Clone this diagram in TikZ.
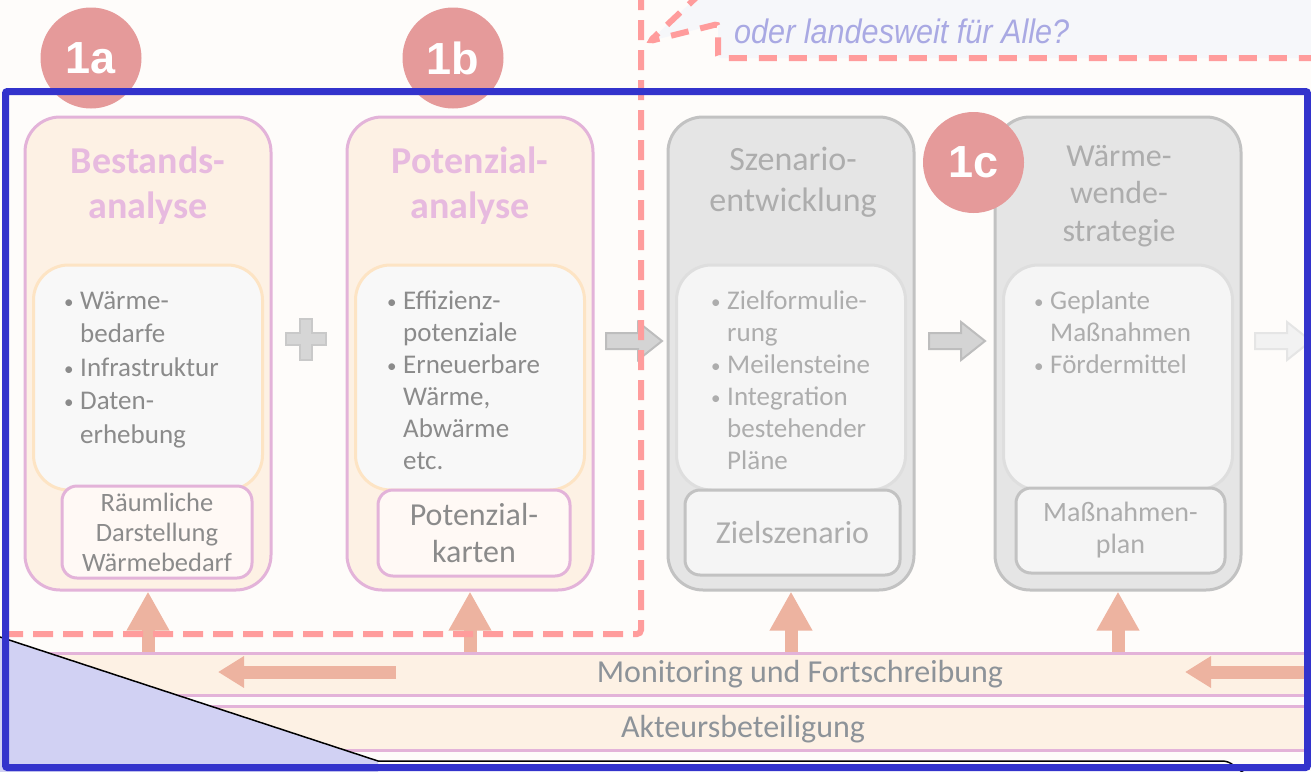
\documentclass[tikz,border=0pt]{standalone}
\usepackage{fontspec}
\setmainfont{Carlito}
\newfontfamily\badgefont{Liberation Sans}
\newfontfamily\notefont[FakeStretch=0.9]{Liberation Sans}
\usepackage{xcolor}
\definecolor{paper}{HTML}{FEFCFA}
\definecolor{peach}{HTML}{FDF1E4}
\definecolor{orchid}{HTML}{E3B3D9}
\definecolor{titlepink}{HTML}{E7BADF}
\definecolor{infill}{HTML}{F8F8F8}
\definecolor{inline}{HTML}{FDE4C4}
\definecolor{resfill}{HTML}{FFF9F5}
\definecolor{txt}{HTML}{8B8B8B}
\definecolor{greybox}{HTML}{E5E5E5}
\definecolor{greyline}{HTML}{C2C2C2}
\definecolor{greyin}{HTML}{F5F5F5}
\definecolor{greyinline}{HTML}{DEDEDE}
\definecolor{greytxt}{HTML}{ADADAD}
\definecolor{salmon}{HTML}{EDB3A0}
\definecolor{badgepink}{HTML}{E59A9A}
\definecolor{dashpink}{HTML}{FF9C9C}
\definecolor{framed}{HTML}{3333CC}
\definecolor{lavender}{HTML}{D1D1F3}
\definecolor{notefill}{HTML}{F6F7FA}
\definecolor{notetxt}{HTML}{A9A9E3}
\definecolor{bandtxt}{HTML}{8D9399}
\usetikzlibrary{positioning,calc,arrows.meta}

\newcommand\itm{\makebox[17pt][l]{\hspace*{1pt}\raisebox{1pt}{\fontsize{19pt}{19pt}\selectfont\textbullet}}}
\newcommand\itmgap{\hspace*{17pt}}

\tikzset{blockarrow/.pic={\path[pic actions] (-28,-8) -- (4,-8) -- (4,-19) -- (28,0) -- (4,19) -- (4,8) -- (-28,8) -- cycle;}}

\begin{document}
\begin{tikzpicture}[x=1pt,y=-1pt,
  stage/.style={rounded corners=35pt,line width=3pt,minimum width=246pt,minimum height=473pt,inner sep=0pt},
  warm/.style={stage,fill=peach,draw=orchid},
  cold/.style={stage,fill=greybox,draw=greyline},
  inbox/.style={rounded corners=35pt,line width=3pt,minimum width=229pt,minimum height=225pt,inner sep=0pt},
  inwarm/.style={inbox,fill=infill,draw=inline},
  incold/.style={inbox,fill=greyin,draw=greyinline},
  reswarm/.style={rounded corners=15pt,line width=3pt,fill=resfill,draw=orchid,text=txt,align=center,inner sep=0pt},
  rescold/.style={rounded corners=15pt,line width=3pt,fill=greyin,draw=greyline,text=greytxt,align=center,inner sep=0pt},
  ttlwarm/.style={text=titlepink,align=center,inner sep=0pt,font=\bfseries\fontsize{38pt}{45pt}\selectfont},
  ttlcold/.style={text=greytxt,align=center,inner sep=0pt,font=\fontsize{34pt}{41pt}\selectfont},
  listwarm/.style={text=txt,align=left,anchor=north west,inner sep=0pt,font=\fontsize{27pt}{32pt}\selectfont},
  listcold/.style={listwarm,text=greytxt},
  band/.style={fill=peach,draw=orchid,line width=3pt,minimum width=1330pt,inner sep=0pt},
  bandlabel/.style={text=bandtxt,inner sep=0pt,font=\fontsize{32pt}{36pt}\selectfont},
  feed/.style={salmon,line width=13pt,-{Triangle[length=39pt,width=40pt]}},
  back/.style={salmon,line width=13pt,-{Triangle[length=26pt,width=30pt]}},
  pinkdash/.style={dashpink,line width=6pt,dash pattern=on 20pt off 10pt,rounded corners=4pt},
  badge/.style={circle,fill=badgepink,minimum size=101pt,inner sep=0pt,text=white,font=\badgefont\bfseries\fontsize{45pt}{45pt}\selectfont},
  flowgrey/.style={fill=black!17,draw=black!26,line width=2pt},
  flowpale/.style={fill=black!5,draw=black!10,line width=2pt}]
  \useasboundingbox (0,0) rectangle (1311,771);
  \clip (0,0) rectangle (1311,771);
  \fill[paper] (0,0) rectangle (1311,771);

  % question bubble
  \filldraw[fill=notefill,draw=dashpink,line width=6pt,dash pattern=on 18pt off 12pt,rounded corners=3pt]
    (702,-8) -- (650,41) -- (718,24) -- (718,58) -- (1330,58) -- (1330,-8);
  \node[anchor=west,inner sep=0pt,text=notetxt,font=\notefont\itshape\fontsize{34pt}{34pt}\selectfont] (ask) at (734,31) {oder landesweit für Alle?};

  % the four stages
  \node[warm] (best) at (148,353.5) {};
  \node[warm,right=73pt of best] (pot) {};
  \node[cold,right=72pt of pot] (szen) {};
  \node[cold,right=78pt of szen] (strat) {};

  \node[inwarm,below=148pt of best.north] (bestin) {};
  \node[inwarm,below=148pt of pot.north] (potin) {};
  \node[incold,below=148pt of szen.north] (szenin) {};
  \node[incold,below=148pt of strat.north] (stratin) {};

  \node[ttlwarm] (bestttl) at (148,186) {Bestands-\\analyse};
  \node[ttlwarm] (potttl) at (470,186) {Potenzial-\\analyse};
  \node[ttlcold] (szenttl) at (793,182) {Szenario-\\entwicklung};
  \node[ttlcold,font=\fontsize{32pt}{37.5pt}\selectfont] (stratttl) at (1119,196) {Wärme-\\wende-\\strategie};

  \node[listwarm,font=\fontsize{27pt}{33.5pt}\selectfont] (bestli) at (63,291) {\itm Wärme-\\\itmgap bedarfe\\\itm Infrastruktur\\\itm Daten-\\\itmgap erhebung};
  \node[listwarm] (potli) at (386,291) {\itm Effizienz-\\\itmgap potenziale\\\itm Erneuerbare\\\itmgap Wärme,\\\itmgap Abwärme\\\itmgap etc.};
  \node[listcold] (szenli) at (710,291) {\itm Zielformulie-\\\itmgap rung\\\itm Meilensteine\\\itm Integration\\\itmgap bestehender\\\itmgap Pläne};
  \node[listcold] (stratli) at (1033,291) {\itm Geplante\\\itmgap Maßnahmen\\\itm Fördermittel};

  \node[reswarm,minimum width=190pt,minimum height=92pt,font=\fontsize{26.5pt}{30pt}\selectfont] (bestres) at (157,532) {Räumliche\\Darstellung\\Wärmebedarf};
  \node[reswarm,minimum width=192pt,minimum height=86pt,font=\fontsize{32pt}{36pt}\selectfont] (potres) at (474,533) {Potenzial-\\karten};
  \node[rescold,minimum width=215pt,minimum height=85pt,font=\fontsize{32pt}{36pt}\selectfont] (szenres) at (792.5,532.5) {Zielszenario};
  \node[rescold,minimum width=209pt,minimum height=85pt,font=\fontsize{28pt}{32pt}\selectfont] (stratres) at (1120.5,530.5) {Maßnahmen-\\plan};

  % plus and flow arrows
  \filldraw[fill=black!16,draw=black!21,line width=1.5pt] (300,319) -- (312,319) -- (312,333) -- (326,333) -- (326,345) -- (312,345)
    -- (312,360) -- (300,360) -- (300,345) -- (286,345) -- (286,333) -- (300,333) -- cycle;
  \pic[flowgrey] at (634,341) {blockarrow};
  \pic[flowgrey] at (957,341) {blockarrow};
  \pic[flowpale] at (1283,341) {blockarrow};

  % bands
  \node[band,minimum height=42pt] (moni) at (655,674) {};
  \node[bandlabel] (monilbl) at (800,674) {Monitoring und Fortschreibung};
  \node[band,minimum height=44pt] (akt) at (655,728) {};
  \node[bandlabel] (aktlbl) at (743,729) {Akteursbeteiligung};

  \foreach \s in {best,pot,szen,strat} \draw[feed] (\s.south |- moni.north) -- (\s.south);
  \draw[back] (396,672) -- (218,672);
  \draw[back] (1320,672) -- (1185,672);

  % dashed scope line
  \draw[pinkdash] (641,-10) -- (641,634) -- (-10,634);

  % corner overlay
  \fill[lavender] (0,637) -- (378,761) -- (378,775) -- (0,775) -- cycle;
  \draw[black,line width=1.5pt] (0,637) -- (378,761) -- (1222,761) to[out=0,in=150] (1244,773);

  % badges
  \node[badge] (n1a) at (91,58) {1a};
  \node[badge] (n1b) at (453,58) {1b};
  \node[badge] (n1c) at (973.5,162.5) {1c};

  \draw[framed,line width=7pt,rounded corners=2pt] (5.5,91.5) rectangle (1307.5,767.5);
\end{tikzpicture}
\end{document}
